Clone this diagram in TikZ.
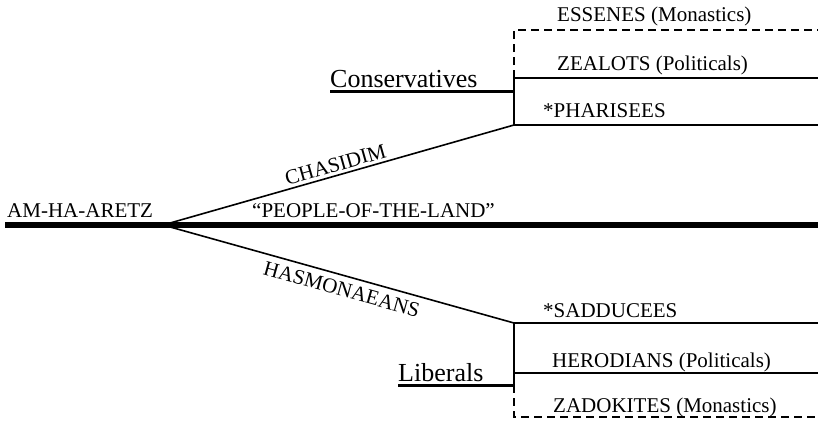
\documentclass[tikz,border=0pt]{standalone}
\usepackage{fontspec}
\setmainfont{Liberation Serif}
\usetikzlibrary{positioning}
\tikzset{
  sect/.style={font=\fontsize{21}{21}\selectfont, inner sep=0pt, anchor=base west},
  wing/.style={font=\fontsize{26}{26}\selectfont, inner sep=0pt, anchor=base west},
  branch/.style={font=\fontsize{21}{21}\selectfont, inner sep=0pt, sloped},
  stem/.style={line width=5.5pt},
  bar/.style={line width=3pt},
  split/.style={line width=1.6pt},
  rung/.style={line width=1.4pt},
  faint/.style={line width=1.2pt, dash pattern=on 8pt off 5pt},
}

\begin{document}
\begin{tikzpicture}[x=1pt, y=-1pt]

  \useasboundingbox (0,0) rectangle (820,421);

  % trunk
  \coordinate (land-w) at (5,225);
  \coordinate (land-e) at (818,225);
  \coordinate (fork) at (163,225);
  \node[sect] (amha) at (7,217) {AM-HA-ARETZ};
  \node[sect] (people) at (252,217) {“PEOPLE-OF-THE-LAND”};

  % conservative side
  \coordinate (cons) at (514,125);
  \coordinate (cons-bar) at (514,91);
  \coordinate (cons-mid) at (514,78);
  \coordinate (cons-top) at (514,30);
  \coordinate (phar-e) at (818,125);
  \coordinate (zeal-e) at (818,78);
  \coordinate (ess-e) at (818,30);
  \node[wing] (conservatives) at (330,87) {Conservatives};
  \node[sect] (essenes) at (557,21) {ESSENES (Monastics)};
  \node[sect] (zealots) at (557,70) {ZEALOTS (Politicals)};
  \node[sect] (pharisees) at (543,117) {*PHARISEES};

  % liberal side
  \coordinate (libs) at (514,323);
  \coordinate (libs-mid) at (514,373);
  \coordinate (libs-bar) at (514,385);
  \coordinate (libs-bot) at (514,417);
  \coordinate (sadd-e) at (818,323);
  \coordinate (hero-e) at (818,373);
  \coordinate (zado-e) at (818,417);
  \node[wing] (liberals) at (398,381) {Liberals};
  \node[sect] (sadducees) at (543,317) {*SADDUCEES};
  \node[sect] (herodians) at (552,367) {HERODIANS (Politicals)};
  \node[sect] (zadokites) at (553,412) {ZADOKITES (Monastics)};

  \draw[stem] (land-w) -- (land-e);
  \draw[split] (fork) -- node[branch, above=3pt, pos=0.5] (chasidim) {CHASIDIM} (cons);
  \draw[split] (fork) -- node[branch, below=6pt, pos=0.52] (hasmon) {HASMONAEANS} (libs);

  \draw[bar] (conservatives.base west |- cons-bar) -- (cons-bar);
  \draw[rung] (cons) -- (cons-mid);
  \draw[faint] (cons-mid) -- (cons-top) -- (ess-e);
  \draw[rung] (cons-mid) -- (zeal-e);
  \draw[rung] (cons) -- (phar-e);

  \draw[bar] (liberals.base west |- libs-bar) -- (libs-bar);
  \draw[rung] (libs) -- (libs-bar);
  \draw[faint] (libs-bar) -- (libs-bot) -- (zado-e);
  \draw[rung] (libs-mid) -- (hero-e);
  \draw[rung] (libs) -- (sadd-e);

\end{tikzpicture}
\end{document}
